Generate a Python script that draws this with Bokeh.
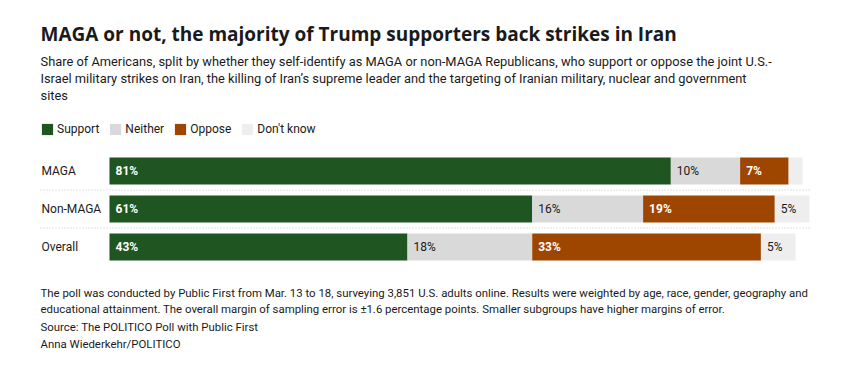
from bokeh.plotting import figure
from bokeh.models import ColumnDataSource, Range1d, Label, LabelSet, Legend, LegendItem
from bokeh.core.properties import value
from bokeh.embed import file_html
from bokeh.resources import INLINE

# ---- data ----
groups = ["MAGA", "Non-MAGA", "Overall"]
support = [81, 61, 43]
neither = [10, 16, 18]
oppose = [7, 19, 33]
dont_know = [2, 5, 5]
series_keys = ["support", "neither", "oppose", "dont_know"]
series_names = ["Support", "Neither", "Oppose", "Don't know"]
colors = ["#1f5520", "#d9d9d9", "#9e4500", "#eeeeee"]
label_on_dark = [True, False, True, False]

title = "MAGA or not, the majority of Trump supporters back strikes in Iran"
subtitle = [
    "Share of Americans, split by whether they self-identify as MAGA or non-MAGA Republicans, who support or oppose the joint U.S.-",
    "Israel military strikes on Iran, the killing of Iran\u2019s supreme leader and the targeting of Iranian military, nuclear and government",
    "sites",
]
footer = [
    "The poll was conducted by Public First from Mar. 13 to 18, surveying 3,851 U.S. adults online. Results were weighted by age, race, gender, geography and",
    "educational attainment. The overall margin of sampling error is \u00b11.6 percentage points. Smaller subgroups have higher margins of error.",
    "Source: The POLITICO Poll with Public First",
    "Anna Wiederkehr/POLITICO",
]

FONT = "Roboto"
W, H = 846, 360
PX = 6.93     # pixels per percentage point
X0 = 109      # canvas x of 0%
ROW = 38      # pixels per row
Y0 = H - 246.5  # canvas y (from bottom) of the last row centre


def dx(px):
    return (px - X0) / PX


def dy(py):
    return (H - py - Y0) / ROW


p = figure(width=W, height=H, output_backend="svg", toolbar_location=None,
           x_range=Range1d(-X0 / PX, (W - X0) / PX),
           y_range=Range1d(-Y0 / ROW, (H - Y0) / ROW),
           x_axis_type=None, y_axis_type=None,
           min_border=0, min_border_left=0, min_border_right=0,
           min_border_top=0, min_border_bottom=0)
p.grid.visible = False
p.outline_line_color = None
p.background_fill_color = "white"
p.border_fill_color = "white"

n = len(groups)
ypos = [n - 1 - i for i in range(n)]
data = dict(y=ypos, group=groups, support=support, neither=neither,
            oppose=oppose, dont_know=dont_know)
src = ColumnDataSource(data)

rends = p.hbar_stack(series_keys, y="y", height=0.71, color=colors,
                     line_color=None, source=src)

# separators
p.segment(x0=[dx(40)] * (n - 1), x1=[dx(810)] * (n - 1),
          y0=[k + 0.5 for k in range(n - 1)], y1=[k + 0.5 for k in range(n - 1)],
          line_color="#c4c4c4", line_width=1, line_dash="1 2")

# segment value labels
vals = [support, neither, oppose, dont_know]
light = dict(x=[], y=[], t=[])
dark = dict(x=[], y=[], t=[])
for i in range(n):
    left = 0
    for s in range(len(series_keys)):
        v = vals[s][i]
        if v >= 3:
            d = light if label_on_dark[s] else dark
            d["x"].append(left)
            d["y"].append(ypos[i])
            d["t"].append(f"{v}%")
        left += v

p.add_layout(LabelSet(x="x", y="y", text="t", source=ColumnDataSource(light),
                      x_offset=6, text_baseline="middle", text_color="white",
                      text_font=value(FONT), text_font_size="12px",
                      text_font_style="bold"))
p.add_layout(LabelSet(x="x", y="y", text="t", source=ColumnDataSource(dark),
                      x_offset=6, text_baseline="middle", text_color="#1a1a1a",
                      text_font=value(FONT), text_font_size="12px"))

# category labels
cat_src = ColumnDataSource(dict(x=[dx(41)] * n, y=ypos, t=groups))
p.add_layout(LabelSet(x="x", y="y", text="t", source=cat_src,
                      text_baseline="middle", text_color="#1a1a1a",
                      text_font=value(FONT), text_font_size="12px"))

# title, subtitle, footer
p.add_layout(Label(x=dx(40), y=dy(33), text=title, text_baseline="middle",
                   text_font="Open Sans", text_font_size="19px", text_font_style="bold",
                   text_color="#1a1a1a"))
for k, line in enumerate(subtitle):
    p.add_layout(Label(x=dx(40), y=dy(61 + 17 * k), text=line, text_baseline="middle",
                       text_font=FONT, text_font_size="12.85px", text_color="#1a1a1a"))
for k, (line, yy) in enumerate(zip(footer, [292, 308, 326, 343])):
    p.add_layout(Label(x=dx(40), y=dy(yy), text=line, text_baseline="middle",
                       text_font=FONT, text_font_size="11.4px", text_color="#1a1a1a"))

# legend
legend = Legend(items=[LegendItem(label=nm, renderers=[r]) for nm, r in zip(series_names, rends)],
                orientation="horizontal", location=(40, H - 136),
                glyph_width=14, glyph_height=14, label_height=14, label_standoff=3,
                spacing=9, padding=0, margin=0, border_line_color=None,
                background_fill_alpha=0, label_text_font=FONT,
                label_text_font_size="12px", label_text_color="#1a1a1a")
p.add_layout(legend, "center")

open("out.html", "w").write(file_html(p, INLINE))
